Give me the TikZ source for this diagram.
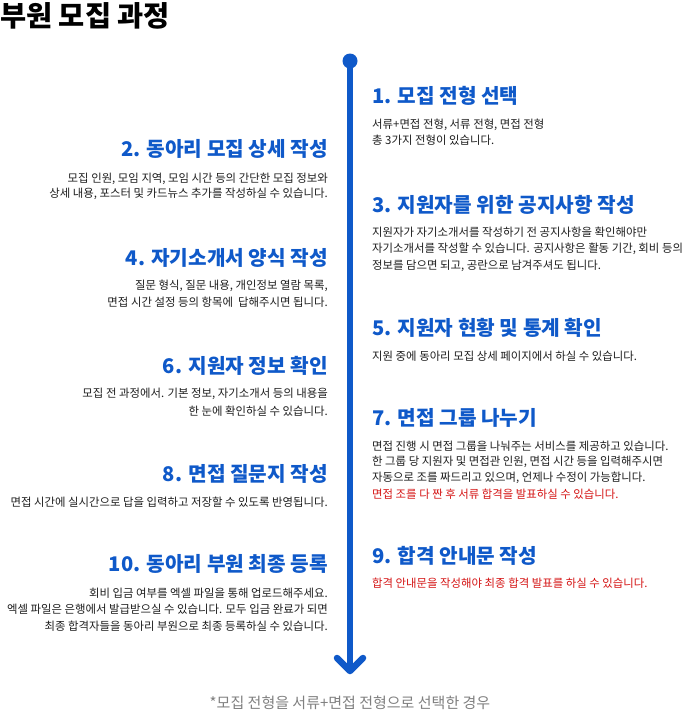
\documentclass[tikz,border=0pt]{standalone}
\usepackage{fontspec}
\setmainfont{Noto Sans CJK KR}
\definecolor{mainblue}{HTML}{0F59C9}
\definecolor{bodytext}{HTML}{1E1E1E}
\definecolor{alertred}{HTML}{D51515}
\definecolor{footgray}{HTML}{808080}
\tikzset{
  ttl/.style={font=\fontsize{28.4}{32}\selectfont\bfseries, text=black, inner sep=0, anchor=base west},
  hd/.style={font=\fontsize{20.2}{24}\selectfont\bfseries, text=mainblue, inner sep=0},
  bd/.style={font=\fontsize{11.4}{14}\selectfont, text=bodytext, inner sep=0},
  rd/.style={font=\fontsize{11.4}{14}\selectfont, text=alertred, inner sep=0},
  rt/.style={anchor=base west},
  lt/.style={anchor=base east},
  ft/.style={font=\fontsize{15}{18}\selectfont, text=footgray, inner sep=0, anchor=base},
  flow/.style={draw=mainblue, line width=6.5pt},
  chev/.style={draw=mainblue, line width=6.5pt, line cap=round, line join=round},
  dot/.style={circle, fill=mainblue, minimum size=15pt, inner sep=0}
}
\begin{document}
\begin{tikzpicture}[x=1pt,y=-1pt]
\fill[white] (0,0) rectangle (700,715);
\useasboundingbox (0,0) rectangle (700,715);
\node[ttl] (title) at (0,26.3) {부원 모집 과정};
% timeline
\node[dot] (start) at (350,61) {};
\coordinate (tip) at (350,671);
\coordinate (armL) at (337,658);
\coordinate (armR) at (363,658);
\draw[flow] (start.center) -- (tip);
\draw[chev] (armL) -- (tip) -- (armR);
% right column
\def\rx{372}
\node[hd,rt] (h1) at (\rx,103.7) {1. 모집 전형 선택};
\node[bd,rt] (b1a) at (\rx,128.8) {서류+면접 전형, 서류 전형, 면접 전형};
\node[bd,rt] (b1b) at (\rx,144.8) {총 3가지 전형이 있습니다.};
\node[hd,rt] (h3) at (\rx,212.7) {3. 지원자를 위한 공지사항 작성};
\node[bd,rt] (b3a) at (\rx,236.8) {지원자가 자기소개서를 작성하기 전 공지사항을 확인해야만};
\node[bd,rt] (b3b) at (\rx,252.5) {자기소개서를 작성할 수 있습니다. 공지사항은 활동 기간, 회비 등의};
\node[bd,rt] (b3c) at (\rx,269.3) {정보를 담으면 되고, 공란으로 남겨주셔도 됩니다.};
\node[hd,rt] (h5) at (\rx,335.7) {5. 지원자 현황 및 통계 확인};
\node[bd,rt] (b5a) at (\rx,360.3) {지원 중에 동아리 모집 상세 페이지에서 하실 수 있습니다.};
\node[hd,rt] (h7) at (\rx,425.7) {7. 면접 그룹 나누기};
\node[bd,rt] (b7a) at (\rx,450.3) {면접 진행 시 면접 그룹을 나눠주는 서비스를 제공하고 있습니다.};
\node[bd,rt] (b7b) at (\rx,465.8) {한 그룹 당 지원자 및 면접관 인원, 면접 시간 등을 입력해주시면};
\node[bd,rt] (b7c) at (\rx,481.8) {자동으로 조를 짜드리고 있으며, 언제나 수정이 가능합니다.};
\node[rd,rt] (b7d) at (\rx,498.3) {면접 조를 다 짠 후 서류 합격을 발표하실 수 있습니다.};
\node[hd,rt] (h9) at (\rx,563.2) {9. 합격 안내문 작성};
\node[rd,rt] (b9a) at (\rx,587.3) {합격 안내문을 작성해야 최종 합격 발표를 하실 수 있습니다.};
% left column
\def\lx{328}
\node[hd,lt] (h2) at (\lx,156.7) {2. 동아리 모집 상세 작성};
\node[bd,lt] (b2a) at (\lx,182.3) {모집 인원, 모임 지역, 모임 시간 등의 간단한 모집 정보와};
\node[bd,lt] (b2b) at (\lx,197.8) {상세 내용, 포스터 및 카드뉴스 추가를 작성하실 수 있습니다.};
\node[hd,lt] (h4) at (\lx,265.2) {4. 자기소개서 양식 작성};
\node[bd,lt] (b4a) at (\lx,289.3) {질문 형식, 질문 내용, 개인정보 열람 목록,};
\node[bd,lt] (b4b) at (\lx,306.3) {면접 시간 설정 등의 항목에 \ 답해주시면 됩니다.};
\node[hd,lt] (h6) at (\lx,373.7) {6. 지원자 정보 확인};
\node[bd,lt] (b6a) at (\lx,397.3) {모집 전 과정에서. 기본 정보, 자기소개서 등의 내용을};
\node[bd,lt] (b6b) at (\lx,415) {한 눈에 확인하실 수 있습니다.};
\node[hd,lt] (h8) at (\lx,481.7) {8. 면접 질문지 작성};
\node[bd,lt] (b8a) at (\lx,506) {면접 시간에 실시간으로 답을 입력하고 저장할 수 있도록 반영됩니다.};
\node[hd,lt] (h10) at (\lx,571.7) {10. 동아리 부원 최종 등록};
\node[bd,lt] (b10a) at (\lx,597.3) {회비 입금 여부를 엑셀 파일을 통해 업로드해주세요.};
\node[bd,lt] (b10b) at (\lx,613.3) {엑셀 파일은 은행에서 발급받으실 수 있습니다. 모두 입금 완료가 되면};
\node[bd,lt] (b10c) at (\lx,630.3) {최종 합격자들을 동아리 부원으로 최종 등록하실 수 있습니다.};
% footer
\node[ft] (foot) at (350,708) {*모집 전형을 서류+면접 전형으로 선택한 경우};
\end{tikzpicture}
\end{document}
